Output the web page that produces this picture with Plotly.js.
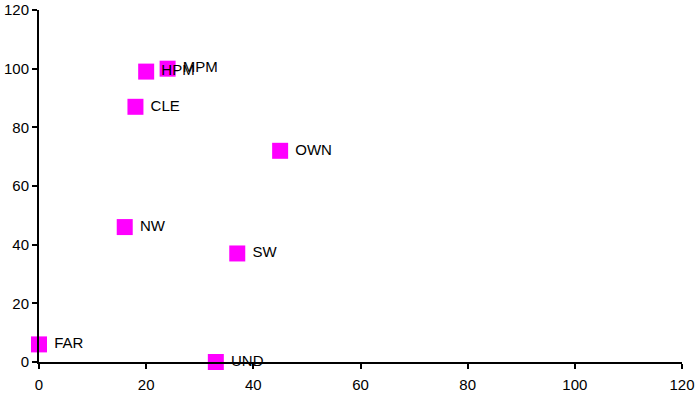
<!DOCTYPE html>
<html><head><meta charset="utf-8">
<script src="https://cdn.plot.ly/plotly-3.0.1.min.js"></script>
<style>html,body{margin:0;padding:0;background:#fff;}#chart{width:696px;height:395px;}</style>
</head><body><div id="chart"></div>
<script>
const labels = ["FAR","UND","NW","SW","OWN","CLE","HPM","MPM"];
const xValues = [0,33,16,37,45,18,20,24];
const yValues = [6,0,46,37,72,87,99,100];

const trace = {
  x: xValues, y: yValues, text: labels,
  mode: 'markers+text', type: 'scatter',
  textposition: 'middle right',
  texttemplate: '\u00a0%{text}',
  cliponaxis: false,
  marker: {symbol: 'square', size: 16, color: '#ff00ff'},
  textfont: {family: 'Liberation Sans, Arial, sans-serif', size: 15, color: '#000'},
  hoverinfo: 'none'
};
const axisBase = {
  range: [0,120], dtick: 20, tick0: 0,
  showgrid: false, zeroline: false,
  showline: true, linecolor: '#000', linewidth: 2,
  ticks: 'outside', ticklen: 5, tickwidth: 2, tickcolor: '#000',
  tickfont: {family: 'Liberation Sans, Arial, sans-serif', size: 15, color: '#000'},
  fixedrange: true
};
const layout = {
  width: 696, height: 395,
  margin: {l: 39, r: 14, t: 10, b: 33},
  paper_bgcolor: '#fff', plot_bgcolor: '#fff',
  showlegend: false,
  xaxis: Object.assign({}, axisBase, {ticklabelstandoff: 3}),
  yaxis: Object.assign({}, axisBase)
};
Plotly.newPlot('chart', [trace], layout, {displayModeBar: false, staticPlot: true});
</script></body></html>
